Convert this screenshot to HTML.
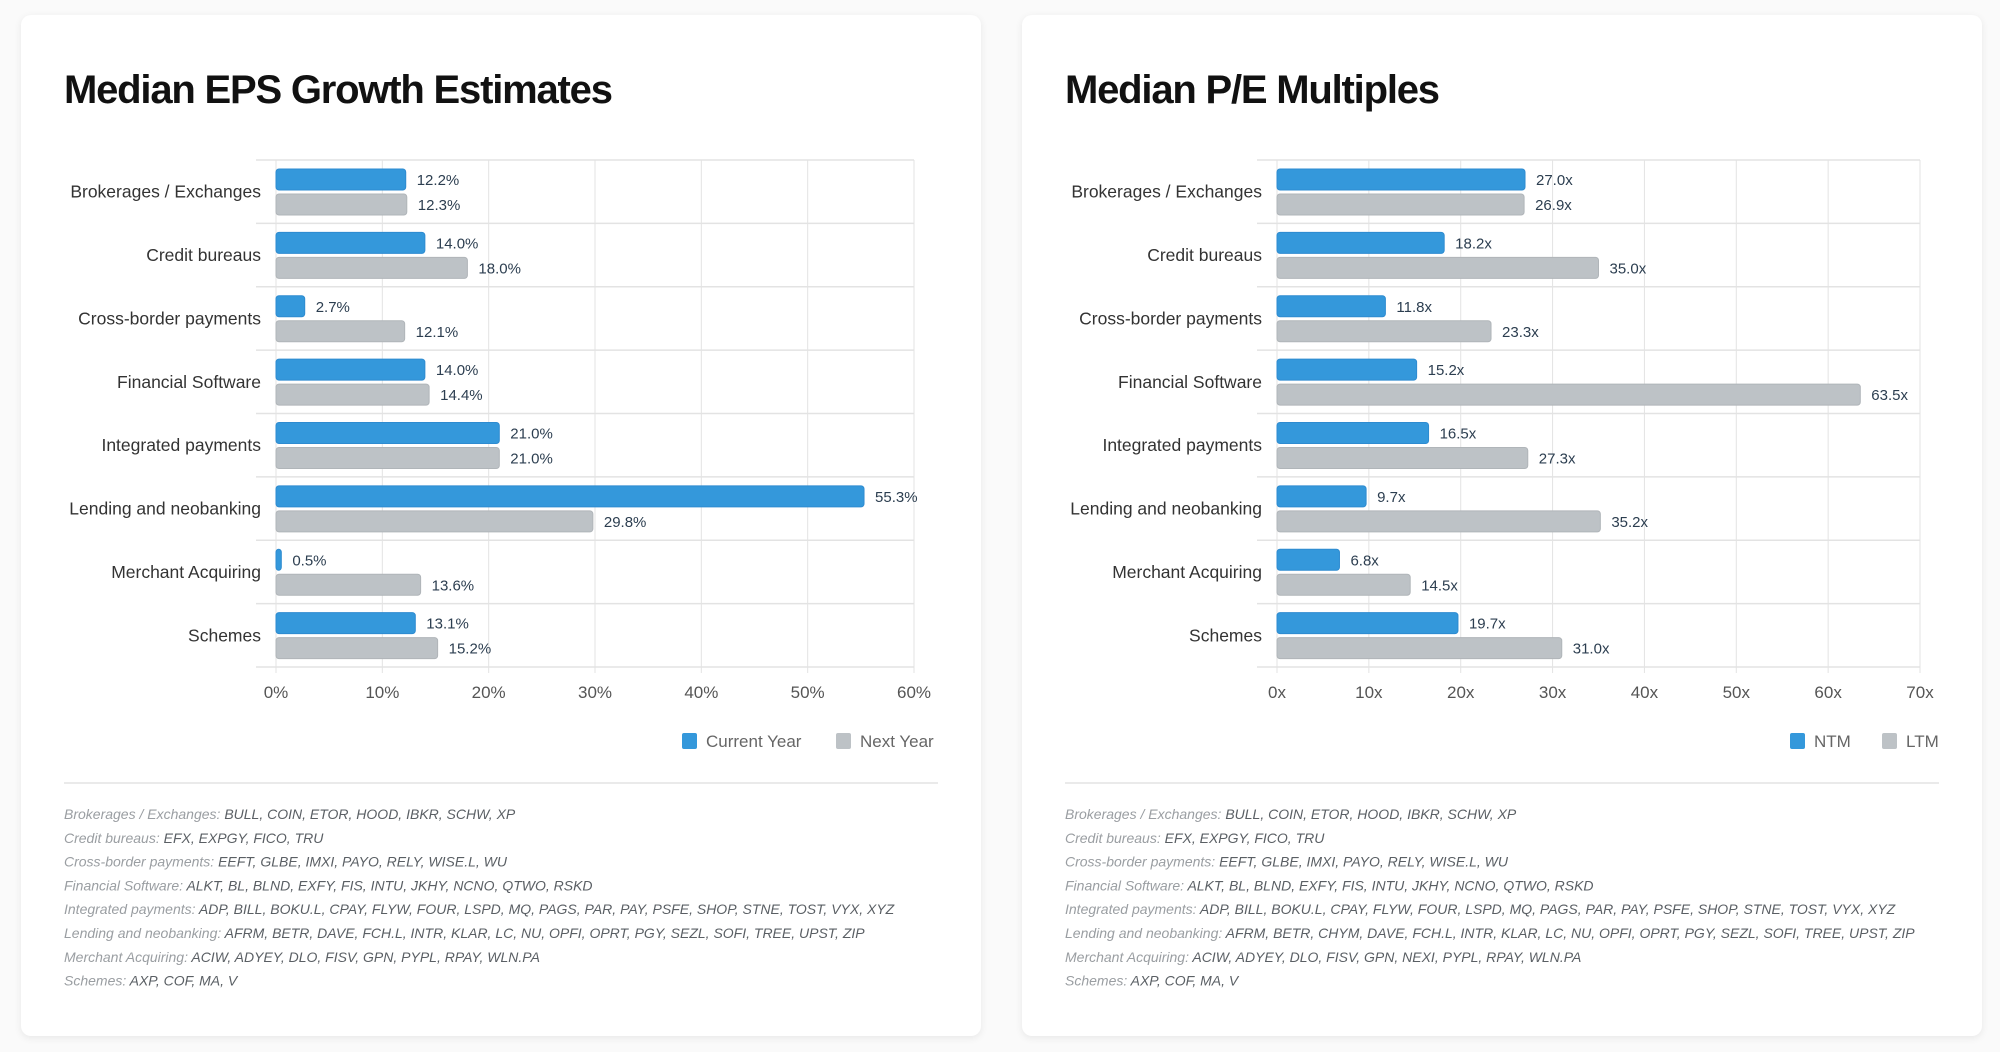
<!DOCTYPE html>
<html><head><meta charset="utf-8"><style>
body{margin:0;width:2000px;height:1052px;background:#fafafa;font-family:"Liberation Sans",sans-serif;overflow:hidden;position:relative}
.card{position:absolute;top:15px;height:1021px;width:960px;background:#fff;border-radius:10px;box-shadow:0 2px 8px rgba(0,0,0,0.08)}
svg{position:absolute;left:0;top:0}
</style></head><body>
<div class="card" style="left:21px"></div>
<div class="card" style="left:1022px"></div>
<svg id="s" width="2000" height="1052"></svg>
<script>
const categories=["Brokerages / Exchanges","Credit bureaus","Cross-border payments","Financial Software","Integrated payments","Lending and neobanking","Merchant Acquiring","Schemes"];
const epsCurrent=[12.2,14.0,2.7,14.0,21.0,55.3,0.5,13.1];
const epsNext=[12.3,18.0,12.1,14.4,21.0,29.8,13.6,15.2];
const epsTicks=[0,10,20,30,40,50,60];
const peNTM=[27.0,18.2,11.8,15.2,16.5,9.7,6.8,19.7];
const peLTM=[26.9,35.0,23.3,63.5,27.3,35.2,14.5,31.0];
const peTicks=[0,10,20,30,40,50,60,70];
const epsNotes=[["Brokerages / Exchanges","BULL, COIN, ETOR, HOOD, IBKR, SCHW, XP"],["Credit bureaus","EFX, EXPGY, FICO, TRU"],["Cross-border payments","EEFT, GLBE, IMXI, PAYO, RELY, WISE.L, WU"],["Financial Software","ALKT, BL, BLND, EXFY, FIS, INTU, JKHY, NCNO, QTWO, RSKD"],["Integrated payments","ADP, BILL, BOKU.L, CPAY, FLYW, FOUR, LSPD, MQ, PAGS, PAR, PAY, PSFE, SHOP, STNE, TOST, VYX, XYZ"],["Lending and neobanking","AFRM, BETR, DAVE, FCH.L, INTR, KLAR, LC, NU, OPFI, OPRT, PGY, SEZL, SOFI, TREE, UPST, ZIP"],["Merchant Acquiring","ACIW, ADYEY, DLO, FISV, GPN, PYPL, RPAY, WLN.PA"],["Schemes","AXP, COF, MA, V"]];
const peNotes=[["Brokerages / Exchanges","BULL, COIN, ETOR, HOOD, IBKR, SCHW, XP"],["Credit bureaus","EFX, EXPGY, FICO, TRU"],["Cross-border payments","EEFT, GLBE, IMXI, PAYO, RELY, WISE.L, WU"],["Financial Software","ALKT, BL, BLND, EXFY, FIS, INTU, JKHY, NCNO, QTWO, RSKD"],["Integrated payments","ADP, BILL, BOKU.L, CPAY, FLYW, FOUR, LSPD, MQ, PAGS, PAR, PAY, PSFE, SHOP, STNE, TOST, VYX, XYZ"],["Lending and neobanking","AFRM, BETR, CHYM, DAVE, FCH.L, INTR, KLAR, LC, NU, OPFI, OPRT, PGY, SEZL, SOFI, TREE, UPST, ZIP"],["Merchant Acquiring","ACIW, ADYEY, DLO, FISV, GPN, NEXI, PYPL, RPAY, WLN.PA"],["Schemes","AXP, COF, MA, V"]];
const NS="http://www.w3.org/2000/svg";
const svg=document.getElementById('s');
function el(tag,attrs,parent,text){const e=document.createElementNS(NS,tag);for(const k in attrs)e.setAttribute(k,attrs[k]);if(text!==undefined)e.textContent=text;(parent||svg).appendChild(e);return e;}
function draw(cfg){
  const g=el('g',{});
  
  
  const t=el('text',{x:cfg.tx,y:103,'font-size':40,'font-weight':'bold',fill:'#111','letter-spacing':'-1.2'},g,cfg.title);
  
  
  const L=cfg.left,R=cfg.right,T=160,B=667,max=cfg.ticks[cfg.ticks.length-1];
  const x=v=>L+(R-L)*v/max;
  const band=(B-T)/categories.length;
  cfg.ticks.forEach(tv=>{
    const ln=el('line',{x1:x(tv),x2:x(tv),y1:T,y2:B+6,stroke:'#e3e3e3','stroke-width':1},g);
    
    
    const tl=el('text',{x:x(tv),y:698,'font-size':17,fill:'#555','text-anchor':'middle'},g,tv+cfg.unit);
    
    
  });
  for(let i=0;i<=categories.length;i++){
    const ln=el('line',{x1:L-20,x2:R,y1:T+i*band,y2:T+i*band,stroke:'#e3e3e3','stroke-width':1.5},g);
    
    
  }
  categories.forEach((c,i)=>{
    const y0=T+i*band;
    const cl=el('text',{x:L-15,y:y0+band/2+6,'font-size':17.5,fill:'#333','text-anchor':'end'},g,c);
    
    
    [[cfg.a,'#3498db','#2e8bd0',0],[cfg.b,'#bdc2c6','#b0b5b9',1]].forEach(([arr,col,st,k])=>{
      const v=arr[i],by=y0+9+k*25;
      const r=el('rect',{x:L,y:by,width:Math.max(x(v)-L,3),height:21,rx:3,fill:col,stroke:st,'stroke-width':1},g);
      
      
      const vl=el('text',{x:x(v)+11,y:by+16,'font-size':15,fill:'#2c3e50'},g,v.toFixed(1)+cfg.unit);
      
      
    });
  });
  cfg.legend.forEach(([lx,col,name])=>{
    const r=el('rect',{x:lx,y:733,width:15,height:16,rx:2,fill:col},g);
    
    
    const lt=el('text',{x:lx+24,y:747,'font-size':17,fill:'#666'},g,name);
    
    
  });
  const sep=el('line',{x1:cfg.tx,x2:cfg.tx+874,y1:783,y2:783,stroke:'#e3e3e3','stroke-width':1.5},g);
  
  
  cfg.notes.forEach(([k,v],i)=>{
    const tx=el('text',{x:cfg.tx,y:819+i*23.8,'font-size':14,'font-style':'italic'},g);
    
    
    el('tspan',{fill:'#9a9ea2'},tx,k+': ');
    el('tspan',{fill:'#5a5f64'},tx,v);
  });
}
draw({id:'eps',title:'Median EPS Growth Estimates',tx:64,left:276,right:914,ticks:epsTicks,unit:'%',a:epsCurrent,b:epsNext,legend:[[682,'#3498db','Current Year'],[836,'#bdc2c6','Next Year']],notes:epsNotes});
draw({id:'pe',title:'Median P/E Multiples',tx:1065,left:1277,right:1920,ticks:peTicks,unit:'x',a:peNTM,b:peLTM,legend:[[1790,'#3498db','NTM'],[1882,'#bdc2c6','LTM']],notes:peNotes});
</script>
</body></html>
